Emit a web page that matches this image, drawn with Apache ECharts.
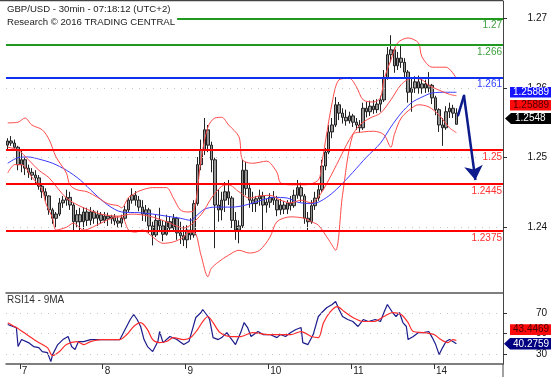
<!DOCTYPE html>
<html><head><meta charset="utf-8">
<script src="https://cdn.jsdelivr.net/npm/echarts@6/dist/echarts.min.js"></script>
<style>html,body{margin:0;padding:0;background:#fff}#c{width:558px;height:377px}</style>
</head><body><div id="c"></div>
<script>
// ---- DATA (hourly bars; x = bar index, day boundaries between bars) ----
const dayLabels = ['7','8','9','10','11','14'];
const dayStarts = [3.5, 27.5, 51.5, 75.5, 99.5, 123.5];
const priceTicks = [1.24, 1.25, 1.26, 1.27];
const rsiTicks = [30, 50, 70];

const barOpen = [1.2518,1.2524,1.2521,1.2515,1.2490,1.2497,1.2485,1.2479,1.2475,1.2471,1.2459,1.2451,1.2445,1.2425,1.2413,1.2419,1.2435,1.2439,1.2443,1.2432,
1.2408,1.2418,1.2408,1.2422,1.2410,1.2422,1.2413,1.2418,1.2410,1.2416,1.2412,1.2415,1.2409,1.2406,1.2413,1.2425,1.2439,1.2446,1.2439,1.2429,
1.2419,1.2425,1.2402,1.2389,1.2410,1.2402,1.2390,1.2408,1.2399,1.2413,1.2392,1.2388,1.2382,1.2396,1.2389,1.2434,1.2490,1.2511,1.2540,1.2518,
1.2497,1.2432,1.2425,1.2439,1.2451,1.2442,1.2410,1.2396,1.2402,1.2482,1.2456,1.2439,1.2434,1.2441,1.2445,1.2432,1.2436,1.2443,1.2439,1.2425,
1.2432,1.2426,1.2435,1.2431,1.2446,1.2457,1.2445,1.2413,1.2408,1.2431,1.2442,1.2454,1.2488,1.2508,1.2537,1.2547,1.2576,1.2564,1.2558,1.2553,
1.2560,1.2551,1.2547,1.2543,1.2571,1.2566,1.2574,1.2569,1.2577,1.2583,1.2615,1.2648,1.2655,1.2632,1.2643,1.2637,1.2623,1.2594,1.2600,1.2609,
1.2600,1.2606,1.2600,1.2604,1.2586,1.2569,1.2547,1.2543,1.2566,1.2571,1.2564];
const barClose = [1.2524,1.2521,1.2515,1.2490,1.2497,1.2485,1.2479,1.2475,1.2471,1.2459,1.2451,1.2445,1.2425,1.2413,1.2419,1.2435,1.2439,1.2443,1.2432,1.2408,
1.2418,1.2408,1.2422,1.2410,1.2422,1.2413,1.2418,1.2410,1.2416,1.2412,1.2415,1.2409,1.2406,1.2413,1.2425,1.2439,1.2446,1.2439,1.2429,1.2419,
1.2425,1.2402,1.2389,1.2410,1.2402,1.2390,1.2408,1.2399,1.2413,1.2392,1.2388,1.2382,1.2396,1.2389,1.2434,1.2490,1.2511,1.2540,1.2518,1.2497,
1.2432,1.2425,1.2439,1.2451,1.2442,1.2410,1.2396,1.2402,1.2482,1.2456,1.2439,1.2434,1.2441,1.2445,1.2432,1.2436,1.2443,1.2439,1.2425,1.2432,
1.2426,1.2435,1.2431,1.2446,1.2457,1.2445,1.2413,1.2408,1.2431,1.2442,1.2454,1.2488,1.2508,1.2537,1.2547,1.2576,1.2564,1.2558,1.2553,1.2560,
1.2551,1.2547,1.2543,1.2571,1.2566,1.2574,1.2569,1.2577,1.2583,1.2615,1.2648,1.2655,1.2632,1.2643,1.2637,1.2623,1.2594,1.2600,1.2609,1.2600,
1.2606,1.2600,1.2604,1.2586,1.2569,1.2547,1.2543,1.2566,1.2571,1.2564,1.2548];
const barLow = [1.2512,1.2517,1.2511,1.2482,1.2479,1.2475,1.2471,1.2468,1.2462,1.2454,1.2442,1.2438,1.2418,1.2405,1.2399,1.2416,1.2428,1.2431,1.2425,1.2396,
1.2399,1.2396,1.2397,1.2402,1.2403,1.2405,1.2402,1.2405,1.2406,1.2402,1.2405,1.2403,1.2400,1.2400,1.2409,1.2422,1.2434,1.2431,1.2423,1.2409,
1.2408,1.2392,1.2374,1.2386,1.2393,1.2380,1.2388,1.2393,1.2396,1.2382,1.2376,1.2373,1.2370,1.2382,1.2385,1.2431,1.2482,1.2504,1.2508,1.2479,
1.2370,1.2408,1.2410,1.2422,1.2432,1.2399,1.2382,1.2377,1.2399,1.2446,1.2428,1.2422,1.2422,1.2431,1.2396,1.2421,1.2428,1.2432,1.2416,1.2418,
1.2419,1.2419,1.2424,1.2428,1.2441,1.2436,1.2405,1.2395,1.2405,1.2425,1.2438,1.2451,1.2482,1.2505,1.2528,1.2544,1.2554,1.2549,1.2546,1.2549,
1.2544,1.2540,1.2536,1.2540,1.2558,1.2560,1.2563,1.2564,1.2566,1.2580,1.2612,1.2637,1.2622,1.2626,1.2629,1.2615,1.2579,1.2566,1.2593,1.2592,
1.2592,1.2593,1.2594,1.2577,1.2561,1.2537,1.2517,1.2540,1.2557,1.2557,1.2548];
const barHigh = [1.2528,1.2531,1.2526,1.2517,1.2511,1.2500,1.2490,1.2485,1.2482,1.2475,1.2462,1.2456,1.2446,1.2428,1.2422,1.2442,1.2445,1.2454,1.2451,1.2435,
1.2425,1.2428,1.2429,1.2428,1.2429,1.2425,1.2424,1.2422,1.2422,1.2421,1.2418,1.2419,1.2416,1.2418,1.2431,1.2442,1.2456,1.2452,1.2445,1.2439,
1.2432,1.2428,1.2408,1.2418,1.2428,1.2410,1.2418,1.2416,1.2419,1.2415,1.2408,1.2402,1.2403,1.2413,1.2439,1.2501,1.2526,1.2557,1.2547,1.2523,
1.2500,1.2454,1.2451,1.2465,1.2468,1.2445,1.2422,1.2410,1.2497,1.2494,1.2464,1.2451,1.2445,1.2454,1.2451,1.2441,1.2449,1.2452,1.2445,1.2441,
1.2438,1.2439,1.2445,1.2454,1.2468,1.2464,1.2448,1.2422,1.2439,1.2451,1.2462,1.2497,1.2514,1.2547,1.2557,1.2587,1.2580,1.2571,1.2569,1.2566,
1.2563,1.2557,1.2554,1.2579,1.2580,1.2582,1.2583,1.2584,1.2589,1.2626,1.2659,1.2676,1.2658,1.2652,1.2662,1.2643,1.2626,1.2615,1.2617,1.2618,
1.2613,1.2612,1.2623,1.2606,1.2589,1.2571,1.2557,1.2574,1.2579,1.2576,1.2571];

const blueMA = [[0,1.2492],[3,1.2500],[6,1.2501],[9,1.2498],[13,1.2492],[17,1.2482],[21,1.2468],[25,1.2449],[29,1.2432],[33,1.2422],[38,1.2421],[42,1.2419],[46,1.2416],[50,1.2413],[53,1.2410],[55,1.2418],[57,1.2426],[60,1.2429],[65,1.2429],[69,1.2432],[73,1.2438],[77,1.2443],[81,1.2442],[84,1.2436],[88,1.2434],[90,1.2436],[93,1.2445],[96,1.2458],[100,1.2479],[104,1.2501],[108,1.2521],[111,1.2544],[114,1.2564],[117,1.2579],[120,1.2587],[123,1.2593],[127,1.2594],[130,1.2594]];
const bbUpper = [[0,1.2550],[3,1.2551],[5,1.2557],[7,1.2547],[10,1.2540],[12,1.2526],[14,1.2501],[17,1.2478],[18,1.2461],[20,1.2454],[23,1.2451],[26,1.2443],[29,1.2434],[32,1.2431],[33,1.2428],[35,1.2443],[36,1.2446],[38,1.2452],[42,1.2457],[46,1.2457],[48,1.2442],[50,1.2425],[52,1.2422],[54,1.2425],[56,1.2497],[58,1.2544],[60,1.2557],[62,1.2558],[64,1.2547],[67,1.2530],[68,1.2497],[71,1.2492],[75,1.2495],[78,1.2479],[79,1.2464],[82,1.2461],[86,1.2461],[90,1.2468],[91,1.2492],[94,1.2579],[96,1.2612],[99,1.2614],[101,1.2602],[103,1.2583],[106,1.2580],[108,1.2586],[109,1.2612],[111,1.2640],[113,1.2665],[116,1.2672],[119,1.2665],[120,1.2645],[123,1.2630],[127,1.2630],[130,1.2614]];
const bbMid = [[0,1.2515],[3,1.2511],[6,1.2497],[9,1.2482],[12,1.2471],[17,1.2442],[22,1.2428],[27,1.2419],[32,1.2416],[36,1.2419],[41,1.2416],[46,1.2408],[51,1.2399],[56,1.2418],[59,1.2442],[62,1.2459],[64,1.2461],[67,1.2451],[70,1.2442],[73,1.2445],[76,1.2446],[79,1.2439],[82,1.2435],[85,1.2439],[88,1.2435],[90,1.2443],[93,1.2468],[96,1.2497],[99,1.2526],[102,1.2547],[105,1.2557],[108,1.2564],[111,1.2583],[114,1.2605],[117,1.2614],[120,1.2612],[122,1.2604],[125,1.2597],[128,1.2591],[130,1.2589]];
const bbLower = [[0,1.2478],[2,1.2490],[4,1.2490],[7,1.2472],[10,1.2454],[11,1.2435],[13,1.2413],[14,1.2396],[17,1.2400],[19,1.2406],[22,1.2396],[27,1.2406],[30,1.2413],[33,1.2415],[35,1.2396],[37,1.2393],[39,1.2396],[42,1.2386],[45,1.2377],[48,1.2379],[51,1.2386],[52,1.2392],[54,1.2393],[56,1.2360],[58,1.2329],[59,1.2341],[61,1.2350],[64,1.2360],[67,1.2367],[70,1.2363],[73,1.2367],[76,1.2386],[78,1.2408],[82,1.2415],[86,1.2413],[88,1.2408],[90,1.2403],[93,1.2382],[95,1.2367],[97,1.2446],[100,1.2533],[103,1.2537],[106,1.2538],[109,1.2533],[111,1.2515],[112,1.2533],[114,1.2557],[117,1.2571],[119,1.2576],[122,1.2573],[125,1.2561],[128,1.2543],[130,1.2536]];

const levelValues = [1.2700, 1.2662, 1.2615, 1.2511, 1.2462, 1.2395];
const levelTexts = ['1.27', '1.266', '1.261', '1.25', '1.2445', '1.2375'];
const forecastUp = [[130.5,1.2561],[132.2,1.2589]];
const forecastDown = [[132.2,1.2589],[135.5,1.2468]];

const rsi = [[0,58.8],[1.5,56.9],[2.5,55.9],[3,37.7],[4,44.4],[4.5,42.5],[6,41.5],[7.5,37.7],[9,36.7],[10,32.9],[11.5,31.9],[12.5,23.3],[13,30.0],[14.5,39.6],[16,44.4],[17.5,47.3],[18.5,37.7],[19.5,34.8],[20.5,42.5],[22,42.5],[24,44.4],[26,44.4],[29,44.4],[30.5,44.4],[32.5,44.4],[34,54.0],[35.5,63.6],[36.5,68.4],[37.5,63.6],[38.5,56.9],[39.5,44.4],[40.5,37.7],[42,32.9],[43.5,42.5],[44,52.1],[45,41.5],[47,47.3],[49,44.4],[51,39.6],[52.5,42.5],[53.5,54.0],[54.5,65.5],[56,70.3],[56.5,73.2],[58,66.5],[58.5,63.6],[59.5,46.3],[61,44.4],[62,46.3],[63.5,51.1],[64.5,46.3],[66,39.6],[67.5,51.1],[68.5,60.7],[69.5,55.9],[70.5,47.3],[72.5,52.1],[74,49.2],[76,49.2],[78,46.3],[79,49.2],[80.5,47.3],[82,51.1],[83.5,54.0],[85,55.9],[85.5,41.5],[87,39.6],[88.5,49.2],[90,66.5],[91,70.3],[92.5,75.1],[94,78.0],[95,80.8],[96,73.2],[97,66.5],[98.5,63.6],[100,61.7],[101.5,56.9],[103,63.6],[104.5,61.7],[106.5,63.6],[108,61.7],[109,70.3],[110,78.0],[110.5,79.9],[111.5,70.3],[112.5,66.5],[113.5,70.3],[114.5,60.7],[115.5,56.9],[116,44.4],[117.5,47.3],[119,51.1],[120.5,51.1],[122,52.1],[123,46.3],[124,39.6],[125,30.0],[126,36.7],[127,42.5],[128,44.4],[129,42.5],[129.5,44.4],[130,40.28]];
const rsiMA = [[0,60.6],[2.5,55.9],[5.5,49.2],[8.5,42.5],[11.5,36.7],[13,29.0],[15,32.9],[17,39.6],[20,42.5],[22,39.6],[24,42.5],[27,44.4],[32.5,44.4],[34.5,49.2],[36.5,56.9],[38.5,60.6],[40.5,54.0],[42,44.4],[44,41.5],[46,42.5],[48,46.3],[51,44.4],[53,46.3],[55,54.0],[56.5,61.7],[58,66.5],[59.5,60.6],[61.5,51.1],[64.5,47.3],[67.5,47.3],[71,51.1],[75.5,49.2],[78,49.2],[82,49.2],[85,52.1],[88,47.3],[90,46.3],[91.5,60.6],[93.5,71.2],[95.5,76.0],[97.5,71.2],[100,65.5],[103,61.7],[106,61.7],[109,66.5],[111.5,70.3],[114,68.4],[116,60.6],[117.5,52.1],[120.5,51.1],[123.5,49.2],[125.5,44.4],[127.5,41.5],[129,44.4],[130,43.45]];

// ---- CHART ----
const FONT = 'Liberation Sans, Arial, sans-serif';
const chart = echarts.init(document.getElementById('c'), null, {renderer: 'canvas'});
const candles = barOpen.map((o, i) => [i, o, barClose[i], barLow[i], barHigh[i]]);
const levelColors = ['#1f9a1f', '#1f9a1f', '#1030f0', '#ff0000', '#ff0000', '#ff0000'];
const levelTextColors = ['#3fa03f', '#3fa03f', '#3040ff', '#ff3030', '#ff3030', '#ff3030'];
const dotted = {color: '#c4c4c4', width: 1, type: [1, 6]};
const ARROW = '#0c1a8c';

const option = {
  animation: false,
  backgroundColor: '#ffffff',
  textStyle: {fontFamily: FONT},
  grid: [
    {left: 6, right: 55, top: 1, height: 292},
    {left: 6, right: 55, top: 293, height: 71}
  ],
  xAxis: [
    {type: 'value', gridIndex: 0, min: -0.5, max: 143.5,
     axisLine: {show: true, onZero: false, lineStyle: {color: '#555', width: 1.5}},
     axisTick: {show: false}, axisLabel: {show: false}, splitLine: {show: false}},
    {type: 'value', gridIndex: 1, min: -0.5, max: 143.5,
     axisLine: {show: true, onZero: false, lineStyle: {color: '#555', width: 1.5}},
     axisTick: {show: true, customValues: dayStarts, length: 5, lineStyle: {color: '#333'}},
     axisLabel: {show: true, customValues: dayStarts, align: 'left', padding: [0, 0, 0, 2], margin: 2,
       fontSize: 10, color: '#222', fontFamily: FONT,
       formatter: v => { const k = dayStarts.findIndex(d => Math.abs(d - v) < 1e-6); return k >= 0 ? dayLabels[k] : ''; }},
     splitLine: {show: false}}
  ],
  yAxis: [
    {type: 'value', gridIndex: 0, position: 'right', min: 1.23056, max: 1.27251, scale: true,
     axisLine: {show: true, onZero: false, lineStyle: {color: '#444'}},
     axisTick: {show: true, customValues: priceTicks, length: 4, lineStyle: {color: '#333'}},
     axisLabel: {customValues: priceTicks, align: 'right', margin: 44, fontSize: 10, color: '#111', fontFamily: FONT,
       formatter: v => v.toFixed(2)},
     splitLine: {show: false}},
    {type: 'value', gridIndex: 1, position: 'right', min: 21, max: 89,
     axisLine: {show: true, onZero: false, lineStyle: {color: '#444'}},
     axisTick: {show: true, customValues: rsiTicks, length: 4, lineStyle: {color: '#333'}},
     axisLabel: {customValues: rsiTicks, align: 'right', margin: 44, fontSize: 10, color: '#111', fontFamily: FONT,
       formatter: v => String(v)},
     splitLine: {show: false}}
  ],
  series: [
    {type: 'candlestick', name: 'GBPUSD', xAxisIndex: 0, yAxisIndex: 0, z: 2,
     data: candles, encode: {x: 0, y: [1, 2, 3, 4]}, barWidth: 3,
     itemStyle: {color: '#969696', color0: '#969696', borderColor: '#222', borderColor0: '#222', borderWidth: 1},
     markLine: {silent: true, symbol: 'none', animation: false, precision: 4,
       data: priceTicks.map(v => ({yAxis: v, lineStyle: dotted, label: {show: false}}))}},
    {type: 'line', name: 'MA', xAxisIndex: 0, yAxisIndex: 0, z: 3, data: blueMA, symbol: 'none', smooth: 0.3,
     lineStyle: {color: '#3a3aff', width: 1}},
    {type: 'line', name: 'BBU', xAxisIndex: 0, yAxisIndex: 0, z: 3, data: bbUpper, symbol: 'none', smooth: 0.3,
     lineStyle: {color: '#ff4a4a', width: 1}},
    {type: 'line', name: 'BBM', xAxisIndex: 0, yAxisIndex: 0, z: 3, data: bbMid, symbol: 'none', smooth: 0.3,
     lineStyle: {color: '#ff4a4a', width: 1}},
    {type: 'line', name: 'BBL', xAxisIndex: 0, yAxisIndex: 0, z: 3, data: bbLower, symbol: 'none', smooth: 0.3,
     lineStyle: {color: '#ff4a4a', width: 1},
     markLine: {silent: true, symbol: 'none', animation: false, precision: 4,
       data: levelValues.map((v, k) => ({yAxis: v,
         lineStyle: {color: levelColors[k], width: 2, type: 'solid'},
         label: {show: true, formatter: levelTexts[k], position: 'insideEndBottom', distance: [1, 2],
           color: levelTextColors[k], fontSize: 10, fontFamily: FONT}}))}},
    {type: 'line', name: 'forecastUp', xAxisIndex: 0, yAxisIndex: 0, z: 6, data: forecastUp, symbol: 'none',
     lineStyle: {color: ARROW, width: 2.5, cap: 'round', join: 'round'}},
    {type: 'lines', coordinateSystem: 'cartesian2d', xAxisIndex: 0, yAxisIndex: 0, z: 6,
     symbol: ['none', 'arrow'], symbolSize: [1, 14],
     lineStyle: {color: ARROW, width: 2.5, opacity: 1, curveness: 0},
     itemStyle: {color: ARROW},
     data: [{coords: forecastDown}]},
    {type: 'line', name: 'RSI', xAxisIndex: 1, yAxisIndex: 1, z: 3, data: rsi, symbol: 'none',
     lineStyle: {color: '#1c1c8c', width: 1.2},
     markLine: {silent: true, symbol: 'none', animation: false,
       data: rsiTicks.map(v => ({yAxis: v, lineStyle: dotted, label: {show: false}}))}},
    {type: 'line', name: 'RSIMA', xAxisIndex: 1, yAxisIndex: 1, z: 4, data: rsiMA, symbol: 'none', smooth: 0.3,
     lineStyle: {color: '#ff2a2a', width: 1.2}}
  ],
  graphic: [
    {type: 'line', z: 50, shape: {x1: 0, y1: 0.5, x2: 503, y2: 0.5}, style: {stroke: '#444', lineWidth: 1.5}},
    {type: 'line', z: 50, shape: {x1: 503, y1: 364, x2: 503, y2: 377}, style: {stroke: '#444', lineWidth: 1}},
    {type: 'text', z: 60, left: 6, top: 3,
     style: {text: 'GBP/USD - 30min - 07:18:12 (UTC+2)\nResearch © 2016 TRADING CENTRAL',
       font: '9.6px ' + FONT, fill: '#222', lineHeight: 13, backgroundColor: '#fff', padding: [0, 2, 0, 1]}},
    {type: 'text', z: 60, left: 7, top: 295, style: {text: 'RSI14 - 9MA', font: '10px ' + FONT, fill: '#333'}},
    // value boxes on right axis
    {type: 'rect', z: 70, shape: {x: 510, y: 87, width: 41, height: 10.5}, style: {fill: '#1414ff'}},
    {type: 'text', z: 71, x: 513, y: 92.3, style: {text: '1.25889', font: '10px ' + FONT, fill: '#fff', verticalAlign: 'middle'}},
    {type: 'rect', z: 70, shape: {x: 510, y: 100, width: 41, height: 10.5}, style: {fill: '#ff0a0a'}},
    {type: 'text', z: 71, x: 513, y: 105.3, style: {text: '1.25889', font: '10px ' + FONT, fill: '#4a0000', verticalAlign: 'middle'}},
    {type: 'polygon', z: 70, shape: {points: [[505, 118.5], [511, 113], [551, 113], [551, 124], [511, 124]]}, style: {fill: '#000'}},
    {type: 'text', z: 71, x: 515, y: 118.6, style: {text: '1.2548', font: '10px ' + FONT, fill: '#fff', verticalAlign: 'middle'}},
    {type: 'rect', z: 70, shape: {x: 510, y: 324.3, width: 41, height: 10.7}, style: {fill: '#ff0a0a'}},
    {type: 'text', z: 71, x: 513, y: 329.7, style: {text: '43.4469', font: '10px ' + FONT, fill: '#4a0000', verticalAlign: 'middle'}},
    {type: 'polygon', z: 70, shape: {points: [[504, 343.7], [510, 338], [551, 338], [551, 349.4], [510, 349.4]]}, style: {fill: '#000080'}},
    {type: 'text', z: 71, x: 513, y: 343.8, style: {text: '40.2759', font: '10px ' + FONT, fill: '#fff', verticalAlign: 'middle'}}
  ]
};
chart.setOption(option);
</script>
</body></html>
